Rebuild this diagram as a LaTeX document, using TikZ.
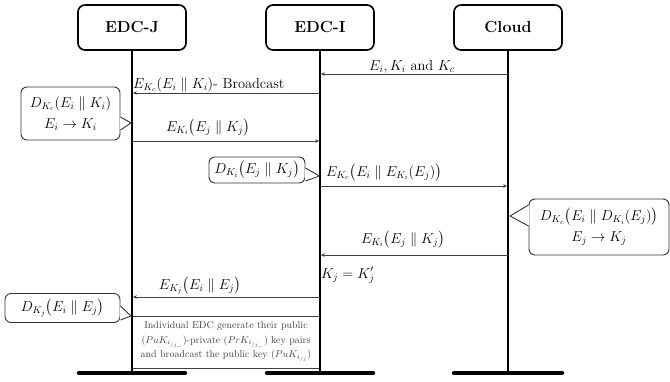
\documentclass[tikz,border=0pt]{standalone}
\usepackage{fontspec}
\usepackage{tikz}
\usetikzlibrary{calc}
\usetikzlibrary{arrows.meta}
\usepackage{amsmath, amssymb}

\begin{document}
\begin{tikzpicture}[x=1pt, y=-1pt]
        % ================= styles =================
        \tikzset{
            % party boxes on top
            party/.style={draw=black, line width=1.6pt, rounded corners=7pt, fill=white, minimum width=108pt, minimum height=45pt, inner sep=0pt, font=\fontsize{16}{18}\selectfont\bfseries},
            % lifelines and their feet
            lifeline/.style={line width=1.8pt, black},
            footbar/.style={line width=4.5pt, line cap=round, black},
            % messages
            msg/.style={draw=black!75, line width=0.9pt, shorten >=0.9pt, -{Stealth[length=4pt, width=3.5pt]}},
            msglabel/.style={inner sep=0pt, font=\fontsize{14.4}{16}\selectfont},
            % notes beside a lifeline
            note/.style={draw=black!80, line width=0.9pt, rounded corners=6pt, fill=white, align=center, inner sep=1pt, font=\fontsize{14.4}{16}\selectfont},
            beak/.style={draw=black!80, line width=0.9pt},
            % key generation box
            keybox/.style={draw=black!75, line width=0.8pt, minimum width=188pt, minimum height=52pt, align=center, inner sep=0pt, text=black!75, font=\fontsize{10}{14.5}\selectfont}
        }

        \useasboundingbox (0,0) rectangle (670,381);

        % ================= parties =================
        \node[party] (edcj) at (132,27.5) {EDC-J};
        \node[party] (edci) at (320,27.5) {EDC-I};
        \node[party] (cloud) at (508,27.5) {Cloud};

        % key generation box (behind the lifelines)
        \node[keybox] (keys) at (226,342) {Individual EDC generate their public\\
            ($PuK_{i_{/j\_}}$)-private ($PrK_{i_{/j\_}}$) key pairs\\
            and broadcast the public key ($PuK_{i_{/j}}$)};

        % lifelines
        \coordinate (jend) at (edcj |- 0,373);
        \coordinate (iend) at (edci |- 0,373);
        \coordinate (cend) at (cloud |- 0,373);
        \draw[lifeline] (edcj.south) -- (jend);
        \draw[lifeline] (edci.south) -- (iend);
        \draw[lifeline] (cloud.south) -- (cend);
        \draw[footbar] ([xshift=-53pt]jend) -- ([xshift=53pt]jend);
        \draw[footbar] ([xshift=-53pt]iend) -- ([xshift=53pt]iend);
        \draw[footbar] ([xshift=-54pt]cend) -- ([xshift=54pt]cend);

        % ================= messages =================
        \coordinate (c1) at (cloud |- 0,74);  \coordinate (i1) at (edci |- 0,74);
        \coordinate (i2) at (edci |- 0,93);   \coordinate (j2) at (edcj |- 0,93);
        \coordinate (j3) at (edcj |- 0,141);  \coordinate (i3) at (edci |- 0,141);
        \coordinate (i4) at (edci |- 0,186);  \coordinate (c4) at (cloud |- 0,186);
        \coordinate (c5) at (cloud |- 0,255); \coordinate (i5) at (edci |- 0,255);
        \coordinate (i6) at (edci |- 0,297);  \coordinate (j6) at (edcj |- 0,297);

        \draw[msg] (c1) -- (i1);
        \node[msglabel, anchor=base] (l1) at (412,70) {$E_i,K_i$ and $K_c$};

        \draw[msg] (i2) -- (j2);
        \node[msglabel, anchor=base west] (l2) at (133,88) {$E_{K_c}(E_i \parallel K_i)$- Broadcast};

        \draw[msg] (j3) -- (i3);
        \node[msglabel, anchor=base] (l3) at (208,131) {$E_{K_i}\bigl(E_j \parallel K_j\bigr)$};

        \draw[msg] (i4) -- (c4);
        \node[msglabel, anchor=base west] (l4) at (326,176) {$E_{K_c}\bigl(E_i \parallel E_{K_i}(E_j)\bigr)$};

        \draw[msg] (c5) -- (i5);
        \node[msglabel, anchor=base] (l5) at (403,243) {$E_{K_i}\bigl(E_j \parallel K_j\bigr)$};

        \node[msglabel, anchor=base west] (kk) at (321,278) {$K_j = K_j'$};

        \draw[msg] (i6) -- (j6);
        \node[msglabel, anchor=base] (l6) at (200,289) {$E_{K_j}\bigl(E_i \parallel E_j\bigr)$};

        % ================= notes =================
        \node[note, minimum width=99pt, minimum height=53pt] (n1) at (70.5,113.5)
            {$D_{K_c}(E_i \parallel K_i)$\\[5pt] $E_i \rightarrow K_i$};
        \coordinate (t1) at (131,123);
        \fill[white] ($(n1.east)+(-0.6,3.5)$) -- (t1) -- ($(n1.east)+(-0.6,16.5)$) -- cycle;
        \draw[beak] ($(n1.east)+(0,3.5)$) -- (t1) -- ($(n1.east)+(0,16.5)$);

        \node[note, minimum width=96pt, minimum height=26pt] (n2) at (257,170)
            {$D_{K_i}\bigl(E_j \parallel K_j\bigr)$};
        \coordinate (t2) at (319.5,176);
        \fill[white] ($(n2.east)+(-0.6,-2)$) -- (t2) -- ($(n2.east)+(-0.6,11)$) -- cycle;
        \draw[beak] ($(n2.east)+(0,-2)$) -- (t2) -- ($(n2.east)+(0,11)$);

        \node[note, minimum width=140pt, minimum height=56pt] (n3) at (599,227)
            {$D_{K_c}\bigl(E_i \parallel D_{K_i}(E_j)\bigr)$\\[5pt] $E_j \rightarrow K_j$};
        \coordinate (t3) at (510,216);
        \fill[white] ($(n3.west)+(0.6,-22)$) -- (t3) -- ($(n3.west)+(0.6,-1)$) -- cycle;
        \draw[beak] ($(n3.west)+(0,-22)$) -- (t3) -- ($(n3.west)+(0,-1)$);

        \node[note, minimum width=115pt, minimum height=29pt] (n4) at (62.5,308)
            {$D_{K_j}\bigl(E_i \parallel E_j\bigr)$};
        \coordinate (t4) at (131,316);
        \fill[white] ($(n4.east)+(-0.6,-2)$) -- (t4) -- ($(n4.east)+(-0.6,12)$) -- cycle;
        \draw[beak] ($(n4.east)+(0,-2)$) -- (t4) -- ($(n4.east)+(0,12)$);

    \end{tikzpicture}
\end{document}
